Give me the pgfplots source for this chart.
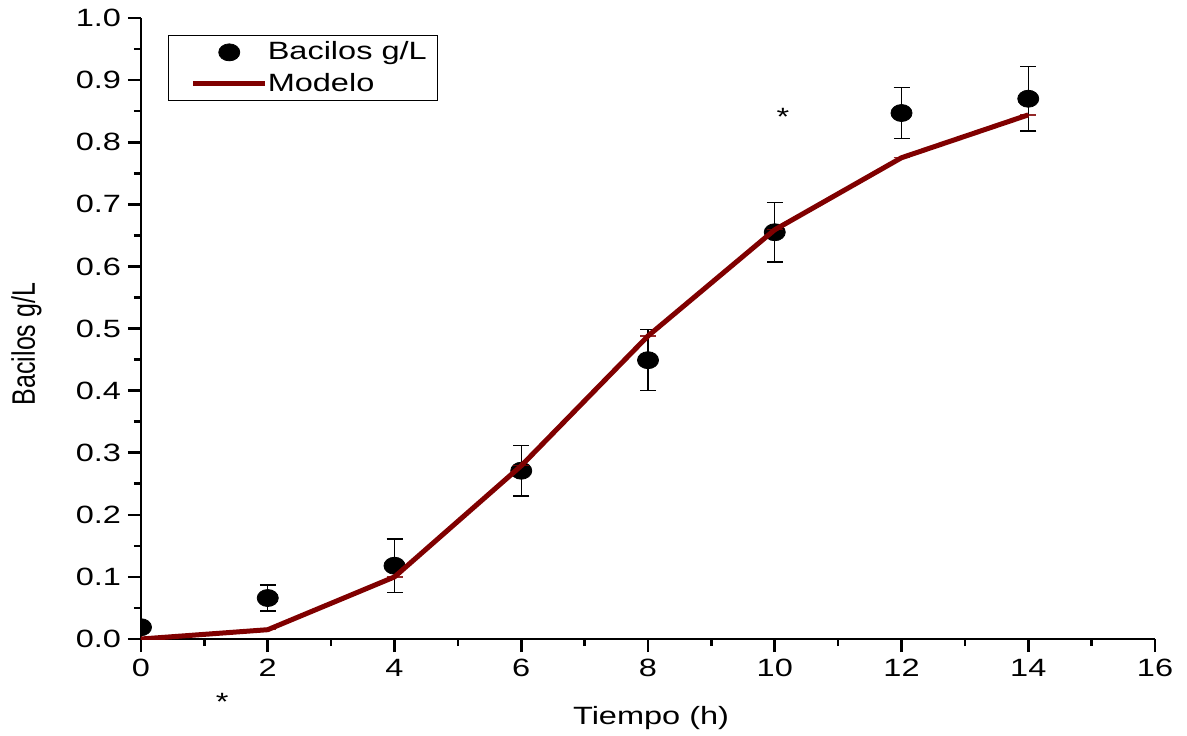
\documentclass[border=0pt]{standalone}
\usepackage{fontspec}
\setmainfont{Liberation Sans}[FakeStretch=1.3]
\newfontfamily\plainsans{Liberation Sans}
\usepackage{pgfplots}
\pgfplotsset{compat=1.18}
\definecolor{modelred}{RGB}{128,0,0}
\pgfplotsset{
  dotlegend/.style={legend image code/.code={\path (0pt,0pt) (43.5pt,0pt); \draw[##1] plot coordinates {(25.5pt,0pt)};}},
  linelegend/.style={legend image code/.code={\path (0pt,0pt); \draw[##1] (7.5pt,0pt) -- (43.5pt,0pt);}},
}

\begin{document}
\begin{tikzpicture}
\useasboundingbox (-70.5pt,-48pt) rectangle (523pt,319.5pt);
\begin{axis}[
  at={(0pt,0pt)}, anchor=origin,
  scale only axis, width=507pt, height=310.5pt,
  xmin=0, xmax=16, ymin=0, ymax=1,
  axis x line=bottom, axis y line=left,
  axis line style={-, line width=1.3pt},
  xtick={0,2,4,6,8,10,12,14,16},
  ytick={0,0.1,0.2,0.3,0.4,0.5,0.6,0.7,0.8,0.9,1.0},
  minor x tick num=1, minor y tick num=1,
  tick align=outside, major tick length=6.5pt, minor tick length=3.5pt,
  every tick/.style={black, line width=1.3pt},
  tick label style={font=\fontsize{12.5}{15}\selectfont},
  /pgf/number format/assume math mode=true,
  yticklabel style={/pgf/number format/.cd, fixed, fixed zerofill, precision=1},
  xlabel={Tiempo (h)},
  ylabel={\scalebox{1}[1.3]{\plainsans\fontsize{12.5}{15}\selectfont Bacilos g/L}},
  xlabel style={font=\fontsize{12.5}{15}\selectfont, at={(axis description cs:0.503,-0.127)}, anchor=center},
  ylabel style={at={(axis description cs:-0.113,0.475)}, anchor=center},
  clip mode=individual, clip marker paths=true,
  legend style={at={(rel axis cs:0.027,0.972)}, anchor=north west, draw=black, thin,
    font=\fontsize{12.5}{15}\selectfont, inner xsep=3.5pt, inner ysep=1pt,
    row sep=1pt, /tikz/every odd column/.style={column sep=-2pt}},
  legend cell align=left,
]
\addplot[black, only marks, mark=*, mark size=4.25pt, mark options={xscale=1.24, fill=black},
  dotlegend,
  error bars/.cd, y dir=both, y explicit,
  error bar style={line width=0.7pt, black},
  error mark options={rotate=90, mark size=4pt, line width=0.7pt, black}]
  coordinates {
  (0,0.019) +- (0,0)
  (2,0.066) +- (0,0.021)
  (4,0.118) +- (0,0.043)
  (6,0.271) +- (0,0.041)
  (8,0.449) +- (0,0.049)
  (10,0.655) +- (0,0.048)
  (12,0.847) +- (0,0.041)
  (14,0.870) +- (0,0.052)
  };
\addlegendentry{Bacilos g/L}
\addplot[modelred, line width=2.5pt, mark=none,
  linelegend,
  error bars/.cd, y dir=both, y explicit,
  error bar style={line width=0.7pt, modelred, opacity=0.6},
  error mark options={rotate=90, mark size=4pt, line width=0.7pt, modelred, opacity=0.6}]
  coordinates {
  (0,0.000) +- (0,0)
  (2,0.015) +- (0,0)
  (4,0.100) +- (0,0)
  (6,0.279) +- (0,0)
  (8,0.488) +- (0,0)
  (10,0.659) +- (0,0)
  (12,0.775) +- (0,0)
  (14,0.844) +- (0,0)
  };
\addlegendentry{Modelo}
\node[font=\fontsize{12.5}{15}\selectfont, yshift=-2.6pt] at (axis cs:1.28,-0.093) {*};
\node[font=\fontsize{12.5}{15}\selectfont, yshift=-2.6pt] at (axis cs:10.13,0.849) {*};
\end{axis}
\end{tikzpicture}
\end{document}
